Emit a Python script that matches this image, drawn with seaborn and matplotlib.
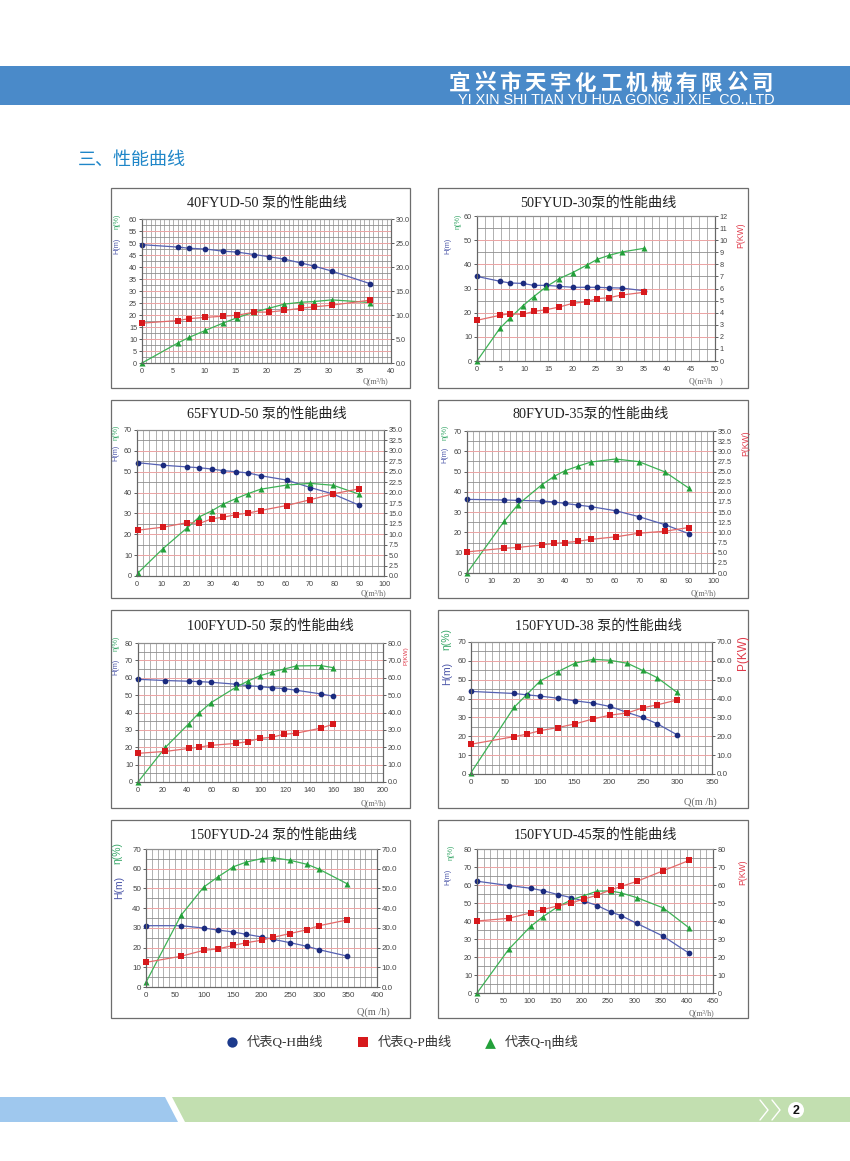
import matplotlib
matplotlib.use('Agg')
import matplotlib.pyplot as plt
import matplotlib.patches as mpatches
from matplotlib.ticker import MultipleLocator, FormatStrFormatter
import seaborn as sns
import pandas as pd
import numpy as np

sns.set_style('white')
plt.rcParams['font.family'] = ['Liberation Sans', 'Noto Sans CJK SC', 'DejaVu Sans']

W, H = 850, 1161
SERIF = ['Liberation Serif', 'Noto Sans CJK SC']
SANS = ['Liberation Sans', 'DejaVu Sans']
CJK = ['Noto Sans CJK SC', 'DejaVu Sans']

H_MARK, H_LINE = '#1b2b7e', '#5561b3'
P_MARK, P_LINE = '#d7191c', '#e56a6a'
E_MARK, E_LINE = '#23a03a', '#3db255'

# ---- data: Q, H(m), P(kW), eta(%) ----
# 40FYUD-50
q_40_50 = [0, 5.8, 7.6, 10.2, 13.0, 15.3, 18.0, 20.4, 22.8, 25.5, 27.6, 30.5, 36.7]
h_40_50 = [49.3, 48.3, 47.8, 47.5, 46.6, 46.2, 45.2, 44.3, 43.3, 41.7, 40.4, 38.3, 33.0]
p_40_50 = [8.3, 8.85, 9.25, 9.5, 9.75, 9.95, 10.6, 10.6, 10.95, 11.4, 11.7, 12.05, 13.1]
e_40_50 = [0, 8.4, 10.7, 13.6, 16.6, 18.9, 21.2, 22.8, 24.5, 25.3, 25.6, 26.3, 25.2]

# 50FYUD-30
q_50_30 = [0, 4.8, 6.9, 9.6, 11.9, 14.6, 17.3, 20.1, 23.1, 25.3, 27.7, 30.4, 35.0]
h_50_30 = [35.0, 33.0, 32.3, 32.1, 31.3, 31.3, 30.9, 30.5, 30.5, 30.5, 30.3, 30.2, 29.1]
p_50_30 = [3.37, 3.78, 3.92, 3.85, 4.11, 4.25, 4.47, 4.77, 4.91, 5.16, 5.24, 5.46, 5.68]
e_50_30 = [0, 13.5, 17.7, 22.8, 26.6, 30.8, 34.1, 36.6, 39.7, 42.1, 43.7, 45.1, 46.6]

# 65FYUD-50
q_65_50 = [0.5, 10.5, 20.4, 25.3, 30.2, 35.0, 40.0, 45.0, 50.0, 60.6, 70.2, 79.4, 90.0]
h_65_50 = [54.3, 53.1, 52.3, 51.9, 51.3, 50.5, 50.0, 49.4, 48.1, 46.0, 42.4, 39.3, 33.9]
p_65_50 = [11.0, 11.7, 12.8, 12.6, 13.7, 14.1, 14.7, 15.1, 15.7, 16.9, 18.3, 19.7, 20.9]
e_65_50 = [1.6, 13.1, 23.2, 28.4, 31.2, 34.5, 37.1, 39.5, 41.6, 43.6, 44.4, 43.5, 39.2]

# 80FYUD-35
q_80_35 = [0, 15.2, 20.7, 30.4, 35.5, 39.8, 45.0, 50.4, 60.4, 69.8, 80.5, 90.1]
h_80_35 = [36.3, 36.0, 35.8, 35.5, 35.0, 34.3, 33.5, 32.7, 30.7, 27.8, 23.8, 19.4]
p_80_35 = [5.2, 6.1, 6.3, 6.9, 7.3, 7.5, 7.8, 8.3, 8.9, 9.8, 10.3, 11.2]
e_80_35 = [0, 25.6, 33.7, 43.5, 47.7, 50.4, 52.6, 54.7, 56.2, 54.9, 49.8, 41.9]

# 100FYUD-50
q_100_50 = [0, 22.3, 41.4, 49.9, 59.7, 79.6, 89.4, 99.5, 109.5, 118.8, 129.2, 149.3, 159.4]
h_100_50 = [59.1, 58.4, 58.0, 57.8, 57.4, 56.3, 55.5, 54.9, 54.2, 53.8, 52.8, 50.7, 49.4]
p_100_50 = [16.5, 17.6, 19.3, 20.1, 21.1, 22.2, 23.2, 25.1, 25.8, 27.4, 28.1, 31.0, 33.3]
e_100_50 = [0, 19.9, 33.5, 39.8, 45.7, 54.4, 58.0, 61.1, 63.3, 64.9, 66.8, 67.0, 65.8]

# 150FYUD-38
q_150_38 = [0, 62.4, 80.7, 100.6, 125.7, 151.3, 177.4, 202.0, 227.2, 249.4, 270.7, 298.8]
h_150_38 = [43.8, 42.7, 42.0, 41.3, 40.2, 38.8, 37.6, 35.8, 32.6, 30.0, 26.6, 20.9]
p_150_38 = [15.8, 19.8, 21.1, 23.0, 24.6, 26.6, 29.2, 31.2, 32.4, 35.1, 36.7, 39.2]
e_150_38 = [0.7, 35.3, 42.0, 49.4, 54.2, 58.8, 60.8, 60.3, 58.7, 54.9, 51.0, 43.4]

# 150FYUD-24
q_150_24 = [0, 60.7, 100.0, 124.3, 151.4, 174.0, 200.0, 220.2, 249.1, 279.2, 300.0, 348.0]
h_150_24 = [31.1, 31.1, 29.9, 28.9, 27.9, 26.7, 25.4, 24.2, 22.5, 20.6, 18.9, 15.7]
p_150_24 = [12.5, 15.6, 18.6, 19.3, 21.1, 22.5, 23.7, 25.2, 27.1, 29.1, 31.1, 34.0]
e_150_24 = [2.4, 36.4, 50.7, 55.8, 61.0, 63.4, 65.1, 65.6, 64.3, 62.2, 59.7, 52.4]

# 150FYUD-45
q_150_45 = [0, 60.3, 102.2, 125.0, 154.2, 179.6, 204.4, 229.1, 255.1, 274.8, 304.6, 354.8, 404.9]
h_150_45 = [62.1, 59.7, 58.2, 56.9, 54.7, 53.0, 51.0, 48.6, 45.0, 43.0, 38.7, 31.6, 22.0]
p_150_45 = [40.0, 41.5, 44.5, 46.3, 48.4, 50.0, 52.3, 54.3, 57.3, 59.2, 62.0, 67.9, 73.7]
e_150_45 = [0, 24.2, 37.0, 42.2, 48.0, 51.7, 54.1, 56.6, 56.7, 55.6, 53.0, 47.3, 36.1]

titles = ['40FYUD-50 泵的性能曲线', '50FYUD-30泵的性能曲线', '65FYUD-50 泵的性能曲线',
          '80FYUD-35泵的性能曲线', '100FYUD-50 泵的性能曲线', '150FYUD-38 泵的性能曲线',
          '150FYUD-24 泵的性能曲线', '150FYUD-45泵的性能曲线']

# axis ranges: (xmax, xstep, ymax, ystep, pmax, pstep)
axis_ranges = [(40, 5, 60, 5, 30, 5), (50, 5, 60, 10, 12, 1), (100, 10, 70, 10, 35, 2.5),
               (100, 10, 70, 10, 35, 2.5), (200, 20, 80, 10, 80, 10), (350, 50, 70, 10, 70, 10),
               (400, 50, 70, 10, 70, 10), (450, 50, 80, 10, 80, 10)]

series = [(q_40_50, h_40_50, p_40_50, e_40_50), (q_50_30, h_50_30, p_50_30, e_50_30),
          (q_65_50, h_65_50, p_65_50, e_65_50), (q_80_35, h_80_35, p_80_35, e_80_35),
          (q_100_50, h_100_50, p_100_50, e_100_50), (q_150_38, h_150_38, p_150_38, e_150_38),
          (q_150_24, h_150_24, p_150_24, e_150_24), (q_150_45, h_150_45, p_150_45, e_150_45)]

# layout in page pixels
layout = [
    dict(frame=(142, 219, 391, 363), panel=(111, 188, 410, 388), title=(267, 203), xsub=7, pfmt='%.1f',
         eta=(117, 221), hl=(117, 246), pl=None, ql='Q(m³/h)', qxy=(375, 381), big=False),
    dict(frame=(477, 216, 715, 361), panel=(438, 188, 748, 388), title=(598, 203), xsub=3, pfmt='%d',
         eta=(458, 221), hl=(448, 246), pl=(741, 235), ql='Q(m³/h    )', qxy=(706, 381), big=False),
    dict(frame=(137, 430, 384, 576), panel=(111, 400, 410, 598), title=(267, 414), xsub=4, pfmt='%.1f',
         eta=(116, 432), hl=(116, 453), pl=None, ql='Q(m³/h)', qxy=(373, 593), big=False),
    dict(frame=(467, 431, 713, 573), panel=(438, 400, 748, 598), title=(591, 414), xsub=4, pfmt='%.1f',
         eta=(445, 432), hl=(445, 455), pl=(746, 443), ql='Q(m³/h)', qxy=(703, 593), big=False),
    dict(frame=(138, 643, 383, 782), panel=(111, 610, 410, 808), title=(270, 626), xsub=4, pfmt='%.1f',
         eta=(116, 643), hl=(116, 667), pl=(406, 656), ql='Q(m³/h)', qxy=(373, 803), big=False),
    dict(frame=(471, 642, 712, 774), panel=(438, 610, 748, 808), title=(598, 626), xsub=5, pfmt='%.1f',
         eta=(446, 639), hl=(447, 673), pl=(743, 653), ql='Q(m /h)', qxy=(700, 802), big=True),
    dict(frame=(146, 849, 377, 987), panel=(111, 820, 410, 1018), title=(273, 835), xsub=5, pfmt='%.1f',
         eta=(117, 853), hl=(119, 887), pl=None, ql='Q(m /h)', qxy=(373, 1012), big=True),
    dict(frame=(477, 849, 713, 993), panel=(438, 820, 748, 1018), title=(595, 835), xsub=4, pfmt='%d',
         eta=(451, 852), hl=(448, 877), pl=(743, 872), ql='Q(m³/h)', qxy=(701, 1013), big=False),
]


def draw_chart(fig, bg, title, rng, data, lay):
    xmax, xstep, ymax, ystep, pmax, pstep = rng
    q, h, p, e = data
    df = pd.DataFrame({'Q': q, 'H': h, 'P': p, 'E': e})
    l, t, r, b = lay['frame']
    fs = 5.8 if lay['big'] else 5.2

    # panel box + title
    pl_, pt_, pr_, pb_ = lay['panel']
    bg.add_patch(mpatches.Rectangle((pl_, pt_), pr_ - pl_, pb_ - pt_, fill=False,
                                    edgecolor='#6d6d6d', linewidth=0.9))
    bg.text(*lay['title'], title, ha='center', va='center', fontsize=10.2,
            family=SERIF, color='#222222')

    ax = fig.add_axes([l / W, 1 - b / H, (r - l) / W, (b - t) / H])
    ax.set_facecolor('white')

    sns.lineplot(data=df, x='Q', y='H', ax=ax, color=H_LINE, linewidth=0.9, zorder=3)
    sns.lineplot(data=df, x='Q', y='E', ax=ax, color=E_LINE, linewidth=0.9, zorder=3)
    sns.scatterplot(data=df, x='Q', y='H', ax=ax, color=H_MARK, marker='o', s=17,
                    linewidth=0, zorder=5, clip_on=False)
    sns.scatterplot(data=df, x='Q', y='E', ax=ax, color=E_MARK, marker='^', s=19,
                    linewidth=0, zorder=5, clip_on=False)

    ax.set_xlim(0, xmax)
    ax.set_ylim(0, ymax)
    ax.xaxis.set_major_locator(MultipleLocator(xstep))
    ax.xaxis.set_minor_locator(MultipleLocator(xstep / lay['xsub']))
    ax.yaxis.set_major_locator(MultipleLocator(ystep))
    ax.yaxis.set_minor_locator(MultipleLocator(ystep / 2))
    ax.set_axisbelow(True)
    ax.grid(axis='x', which='both', color='#a3a3a3', linewidth=0.6)
    ax.grid(axis='y', which='major', color='#eba3a3', linewidth=0.7)
    ax.grid(axis='y', which='minor', color='#8f8f8f', linewidth=0.6)
    ax.tick_params(which='major', labelsize=fs, colors='#444444', length=2, width=0.6, pad=1.5)
    ax.tick_params(which='minor', length=0)
    ax.set_xlabel('')
    ax.set_ylabel('')

    ax2 = ax.twinx()
    sns.lineplot(data=df, x='Q', y='P', ax=ax2, color=P_LINE, linewidth=0.9, zorder=3)
    sns.scatterplot(data=df, x='Q', y='P', ax=ax2, color=P_MARK, marker='s', s=15,
                    linewidth=0, zorder=5, clip_on=False)
    ax2.set_ylim(0, pmax)
    ax2.set_xlim(0, xmax)
    ax2.yaxis.set_major_locator(MultipleLocator(pstep))
    ax2.yaxis.set_major_formatter(FormatStrFormatter(lay['pfmt']))
    ax2.tick_params(labelsize=fs, colors='#444444', length=2, width=0.6, pad=1.5)
    ax2.set_ylabel('')
    ax2.set_xlabel('')
    for a in (ax, ax2):
        for s in a.spines.values():
            s.set_color('#666666')
            s.set_linewidth(0.8)
        a.spines['top'].set_color('#8f8f8f')

    lfs = 7.5 if lay['big'] else 5.2
    bg.text(*lay['eta'], 'η(%)', rotation=90, ha='center', va='center', fontsize=lfs,
            color='#3aa86a', family=SANS)
    bg.text(*lay['hl'], 'H(m)', rotation=90, ha='center', va='center', fontsize=lfs,
            color='#4a55a8', family=SANS)
    if lay['pl'] is not None:
        # the P(KW) label on the left-column chart is squeezed against the panel border
        pfs = 4.6 if lay['pl'][0] < 420 else lfs + 1
        bg.text(*lay['pl'], 'P(KW)', rotation=90, ha='center', va='center', fontsize=pfs,
                color='#e03a4a', family=SANS)
    qfs = 7.5 if lay['big'] else 5.8
    bg.text(*lay['qxy'], lay['ql'], ha='center', va='center', fontsize=qfs,
            color='#666666', family=SERIF)


fig = plt.figure(figsize=(W / 100, H / 100), dpi=100)
bg = fig.add_axes([0, 0, 1, 1])
bg.set_xlim(0, W)
bg.set_ylim(H, 0)
bg.axis('off')

# header band
bg.add_patch(mpatches.Rectangle((0, 66), W, 39, color='#4a8ac9', linewidth=0))
name = '宜兴市天宇化工机械有限公司'
for i, ch in enumerate(name):
    bg.text(447 + 12.6 + i * 25.2, 83, ch, ha='center', va='center', fontsize=15.5,
            color='white', family=CJK, fontweight='bold')
bg.text(775, 99.5, 'YI XIN SHI TIAN YU HUA GONG JI XIE  CO.,LTD', ha='right', va='center',
        fontsize=10.4, color='white', family=['Liberation Sans'])

bg.text(78, 160, '三、性能曲线', ha='left', va='center', fontsize=13, color='#1f86c8',
        family=CJK, fontweight='medium')

for title, rng, data, lay in zip(titles, axis_ranges, series, layout):
    draw_chart(fig, bg, title, rng, data, lay)

# legend
bg.scatter([232], [1042], s=55, marker='o', color='#1c3a8c', linewidth=0)
bg.text(247, 1042, '代表Q-H曲线', ha='left', va='center', fontsize=9.5, color='#333333', family=SERIF)
bg.scatter([363], [1042], s=55, marker='s', color='#d7191c', linewidth=0)
bg.text(378, 1042, '代表Q-P曲线', ha='left', va='center', fontsize=9.5, color='#333333', family=SERIF)
bg.scatter([490], [1043], s=60, marker='^', color='#23a03a', linewidth=0)
bg.text(505, 1042, '代表Q-η曲线', ha='left', va='center', fontsize=9.5, color='#333333', family=SERIF)

# footer band
bg.add_patch(mpatches.Polygon([(0, 1097), (165, 1097), (178, 1122), (0, 1122)],
                              closed=True, color='#9fc8ee', linewidth=0))
bg.add_patch(mpatches.Polygon([(172, 1097), (W, 1097), (W, 1122), (185, 1122)],
                              closed=True, color='#c2dfb0', linewidth=0))
for x0 in (760, 772):
    bg.plot([x0, x0 + 8, x0], [1100, 1110, 1120], color='white', linewidth=1.0)
bg.add_patch(mpatches.Circle((796, 1110), 8, color='white', linewidth=0))
bg.text(796, 1110.5, '2', ha='center', va='center', fontsize=9, fontweight='bold', color='#111111')

fig.savefig('out.png', dpi=100, facecolor='white')
